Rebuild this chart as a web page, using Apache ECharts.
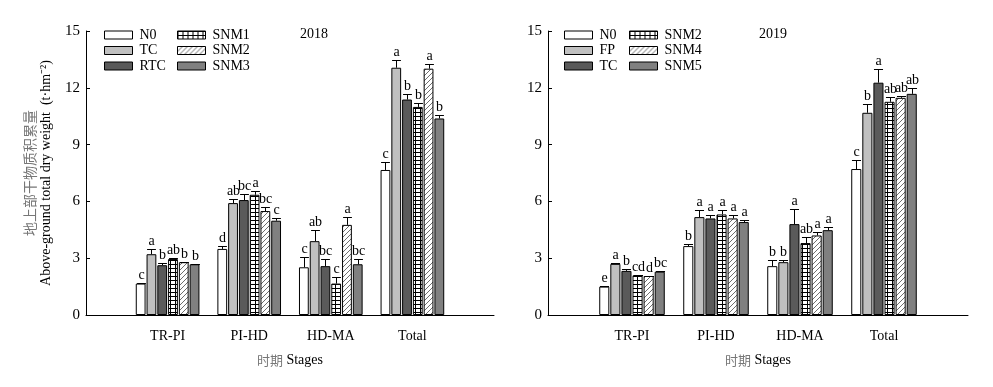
<!DOCTYPE html>
<html><head><meta charset="utf-8">
<script src="https://cdn.jsdelivr.net/npm/echarts@6/dist/echarts.min.js"></script>
<style>html,body{margin:0;padding:0;background:#fff}
#c1{position:absolute;left:0;top:0;width:497px;height:387px}
#c2{position:absolute;left:497px;top:0;width:496px;height:387px}</style>
</head><body><div id="c1"></div><div id="c2"></div>
<script>
// ---------- data ----------
const stages = ['TR-PI', 'PI-HD', 'HD-MA', 'Total'];
const yMin = 0, yMax = 15, yStep = 3;

// 2018
const names2018 = ['N0', 'TC', 'RTC', 'SNM1', 'SNM2', 'SNM3'];
const n0_2018   = [1.66, 3.49, 2.52, 7.66];
const tc_2018   = [3.21, 5.91, 3.90, 13.06];
const rtc_2018  = [2.63, 6.07, 2.58, 11.38];
const snm1_2018 = [2.96, 6.35, 1.66, 10.99];
const snm2_2018 = [2.79, 5.49, 4.76, 13.01];
const snm3_2018 = [2.68, 4.98, 2.68, 10.38];
const n0Err_2018   = [0.03, 0.16, 0.53, 0.41];
const tcErr_2018   = [0.26, 0.21, 0.58, 0.40];
const rtcErr_2018  = [0.12, 0.32, 0.40, 0.30];
const snm1Err_2018 = [0.05, 0.18, 0.37, 0.21];
const snm2Err_2018 = [0.03, 0.21, 0.39, 0.26];
const snm3Err_2018 = [0.02, 0.14, 0.26, 0.19];
const n0Sig_2018   = ['c', 'd', 'c', 'c'];
const tcSig_2018   = ['a', 'ab', 'ab', 'a'];
const rtcSig_2018  = ['b', 'bc', 'bc', 'b'];
const snm1Sig_2018 = ['ab', 'a', 'c', 'b'];
const snm2Sig_2018 = ['b', 'bc', 'a', 'a'];
const snm3Sig_2018 = ['b', 'c', 'bc', 'b'];

// 2019
const names2019 = ['N0', 'FP', 'TC', 'SNM2', 'SNM4', 'SNM5'];
const n0_2019   = [1.50, 3.64, 2.58, 7.71];
const fp_2019   = [2.70, 5.17, 2.79, 10.68];
const tc_2019   = [2.33, 5.10, 4.80, 12.27];
const snm2_2019 = [2.10, 5.31, 3.80, 11.26];
const snm4_2019 = [2.06, 5.10, 4.20, 11.47];
const snm5_2019 = [2.29, 4.91, 4.48, 11.68];
const n0Err_2019   = [0.02, 0.10, 0.35, 0.48];
const fpErr_2019   = [0.03, 0.35, 0.14, 0.46];
const tcErr_2019   = [0.09, 0.18, 0.78, 0.72];
const snm2Err_2019 = [0.02, 0.25, 0.32, 0.25];
const snm4Err_2019 = [0.02, 0.16, 0.16, 0.09];
const snm5Err_2019 = [0.02, 0.09, 0.19, 0.30];
const n0Sig_2019   = ['e', 'b', 'b', 'c'];
const fpSig_2019   = ['a', 'a', 'b', 'b'];
const tcSig_2019   = ['b', 'a', 'a', 'a'];
const snm2Sig_2019 = ['cd', 'a', 'ab', 'ab'];
const snm4Sig_2019 = ['d', 'a', 'a', 'ab'];
const snm5Sig_2019 = ['bc', 'a', 'a', 'ab'];

// ---------- styles ----------
const SERIF = '"Liberation Serif", "Times New Roman", serif';
const CJK = '"Noto Sans CJK SC"';
function gridPattern() {
  const cv = document.createElement('canvas'); cv.width = 5; cv.height = 4;
  const g = cv.getContext('2d');
  g.fillStyle = '#fff'; g.fillRect(0, 0, 5, 4);
  g.fillStyle = '#000'; g.fillRect(0, 0, 5, 1); g.fillRect(0, 0, 1, 4);
  return cv;
}
function hatchPattern() {
  const n = 5;
  const cv = document.createElement('canvas'); cv.width = n; cv.height = n;
  const g = cv.getContext('2d');
  g.fillStyle = '#fff'; g.fillRect(0, 0, n, n);
  g.fillStyle = '#6e6e6e';
  for (let i = 0; i < n; i++) g.fillRect(n - 1 - i, i, 1, 1);
  return cv;
}
const fills = ['#ffffff', '#c0c0c0', '#5a5a5a',
  { image: gridPattern(), repeat: 'repeat' },
  { image: hatchPattern(), repeat: 'repeat' },
  '#808080'];

const CAT_GAP = 0.22, BAR_GAP = 0.10;

function build(el, cfg) {
  const chart = echarts.init(document.getElementById(el), null, { renderer: 'canvas' });
  const cats = [''].concat(stages).concat(['']);
  const series = cfg.names.map((nm, s) => ({
    name: nm, type: 'bar',
    data: cfg.vals[s].map((v, i) => [i + 1, v]),
    barCategoryGap: (CAT_GAP * 100) + '%', barGap: (BAR_GAP * 100) + '%',
    itemStyle: { color: fills[s], borderColor: '#000', borderWidth: 1 },
    emphasis: { disabled: true }
  }));
  const errData = [];
  cfg.names.forEach((nm, s) => {
    cfg.vals[s].forEach((v, c) => errData.push([c + 1, v + cfg.errs[s][c], v, s]));
  });
  series.push({
    type: 'custom', z: 10, silent: true,
    data: errData,
    renderItem: function (params, api) {
      const c = api.value(0), top = api.value(1), base = api.value(2), s = api.value(3);
      const bw = api.size([1, 0])[0];
      const n = cfg.names.length;
      const w = bw * (1 - CAT_GAP) / (n + (n - 1) * BAR_GAP);
      const W = n * w + (n - 1) * w * BAR_GAP;
      const cx = api.coord([c, 0])[0];
      const x = Math.round(cx - W / 2 + s * w * (1 + BAR_GAP) + w / 2) + 0.5;
      const yT = Math.round(api.coord([c, top])[1]) + 0.5;
      const yB = api.coord([c, base])[1];
      const cap = w * 0.45;
      const lbl = cfg.sigs[s][c - 1];
      return {
        type: 'group', children: [
          { type: 'line', shape: { x1: x, y1: yB, x2: x, y2: yT }, style: { stroke: '#000', lineWidth: 1 } },
          { type: 'line', shape: { x1: x - cap, y1: yT, x2: x + cap, y2: yT }, style: { stroke: '#000', lineWidth: 1 } },
          { type: 'text', style: { x: x, y: yT - 1, text: lbl, align: 'center', verticalAlign: 'bottom',
              font: '14px ' + SERIF, fill: '#000' } }
        ]
      };
    }
  });
  const legendBase = {
    orient: 'vertical', top: 28, padding: 0, itemWidth: 28, itemHeight: 8, itemGap: 1.5,
    icon: 'rect', selectedMode: false,
    itemStyle: { borderColor: '#000', borderWidth: 1 },
    textStyle: { fontFamily: SERIF, fontSize: 14, color: '#000', padding: [0, 0, 0, 2] }
  };
  const option = {
    animation: false,
    grid: { left: cfg.gridLeft, top: 31, width: 420, height: 284 },
    legend: [
      Object.assign({}, legendBase, { left: cfg.leg1, data: cfg.names.slice(0, 3) }),
      Object.assign({}, legendBase, { left: cfg.leg2, data: cfg.names.slice(3) })
    ],
    graphic: [{ type: 'text', left: cfg.yearX, top: 27,
      style: { text: cfg.year, font: '14px ' + SERIF, fill: '#000' } }],
    xAxis: {
      type: 'category', data: cats, boundaryGap: false,
      axisLine: { lineStyle: { color: '#000', width: 1 } },
      axisTick: { show: false },
      axisLabel: { fontFamily: SERIF, fontSize: 14, color: '#000', margin: 14 },
      name: '{cn|时期} {en|Stages}', nameLocation: 'middle', nameGap: 38,
      nameTextStyle: { padding: cfg.xNamePad, rich: {
        cn: { fontFamily: CJK, fontSize: 13, color: '#777' },
        en: { fontFamily: SERIF, fontSize: 14, color: '#000' } } }
    },
    yAxis: {
      type: 'value', min: yMin, max: yMax, interval: yStep,
      axisLine: { show: true, lineStyle: { color: '#000', width: 1 } },
      axisTick: { show: true, inside: true, length: 4, lineStyle: { color: '#000' } },
      splitLine: { show: false },
      axisLabel: { fontFamily: SERIF, fontSize: 15, color: '#000', margin: 6 },
      name: cfg.yName, nameLocation: 'middle', nameGap: 31,
      nameTextStyle: { rich: {
        cn: { fontFamily: CJK, fontSize: 14, color: '#777', lineHeight: 17 },
        en: { fontFamily: SERIF, fontSize: 14, color: '#000', lineHeight: 17 } } }
    },
    series: series
  };
  chart.setOption(option);
}

build('c1', {
  names: names2018,
  vals: [n0_2018, tc_2018, rtc_2018, snm1_2018, snm2_2018, snm3_2018],
  errs: [n0Err_2018, tcErr_2018, rtcErr_2018, snm1Err_2018, snm2Err_2018, snm3Err_2018],
  sigs: [n0Sig_2018, tcSig_2018, rtcSig_2018, snm1Sig_2018, snm2Sig_2018, snm3Sig_2018],
  gridLeft: 86, leg1: 104, leg2: 177, yearX: 300, year: '2018',
  xNamePad: [0, 0, 0, 0],
  yName: '{cn|地上部干物质积累量}\n{en|Above-ground total dry weight  (t·hm⁻²)}'
});
build('c2', {
  names: names2019,
  vals: [n0_2019, fp_2019, tc_2019, snm2_2019, snm4_2019, snm5_2019],
  errs: [n0Err_2019, fpErr_2019, tcErr_2019, snm2Err_2019, snm4Err_2019, snm5Err_2019],
  sigs: [n0Sig_2019, fpSig_2019, tcSig_2019, snm2Sig_2019, snm4Sig_2019, snm5Sig_2019],
  gridLeft: 51, leg1: 67, leg2: 132, yearX: 262, year: '2019',
  xNamePad: [0, 0, 0, 0],
  yName: ''
});
</script>
</body></html>
